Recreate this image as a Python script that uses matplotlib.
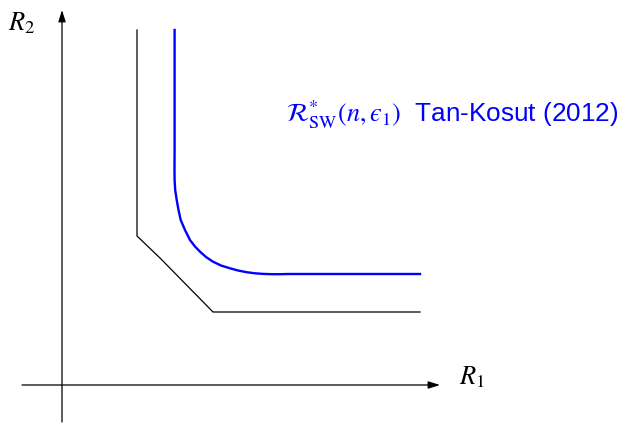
import matplotlib
matplotlib.use("Agg")
import matplotlib.pyplot as plt

plt.rcParams['font.family'] = ['Liberation Sans', 'DejaVu Sans']
plt.rcParams['mathtext.fontset'] = 'stix'

# Outer (polyhedral) rate region boundary, in (R1, R2) units
outer_r1 = [75, 75, 98, 151, 358]
outer_r2 = [355, 149, 127, 73, 73]

# Second-order (Tan-Kosut) boundary
sw_r1 = [112.6, 112.6, 112.5, 112.6, 113.2, 114.7, 116.5, 118.7, 123, 128, 133, 138,
         144, 151, 159, 168, 176, 184.7, 193, 201, 210, 218, 226, 358]
sw_r2 = [355, 235, 215, 205, 195, 185, 175, 165, 155, 145, 138.5, 133.3,
         128, 123.3, 119.5, 116.7, 114.5, 112.8, 111.7, 111.1, 110.8, 110.8, 111, 111]

fig = plt.figure(figsize=(6.25, 4.23), dpi=100)
ax = fig.add_axes([0, 0, 1, 1])
ax.set_xlim(-62, 563)
ax.set_ylim(-38, 385)
ax.axis('off')

arrow = dict(arrowstyle='-|>,head_length=0.7,head_width=0.22', color='black',
             lw=0.9, shrinkA=0, shrinkB=0)
ax.annotate('', xy=(378, 0), xytext=(-40, 0), arrowprops=arrow)
ax.annotate('', xy=(0, 375), xytext=(0, -37), arrowprops=arrow)

ax.plot(outer_r1, outer_r2, color='black', lw=0.9, solid_joinstyle='miter')
ax.plot(sw_r1, sw_r2, color='#0000ff', lw=1.7, solid_joinstyle='round')

ax.text(-40, 362, '$R_2$', fontsize=19, ha='center', va='center')
ax.text(410, 8, '$R_1$', fontsize=19, ha='center', va='center')
ax.text(224, 270, '$\\mathcal{R}^{*}_{\\mathrm{SW}}(n,\\mathit{\u03f5}_1)$  Tan-Kosut (2012)',
        fontsize=18.8, color='#0000ff', ha='left', va='center')

fig.savefig('out.png', dpi=100)
